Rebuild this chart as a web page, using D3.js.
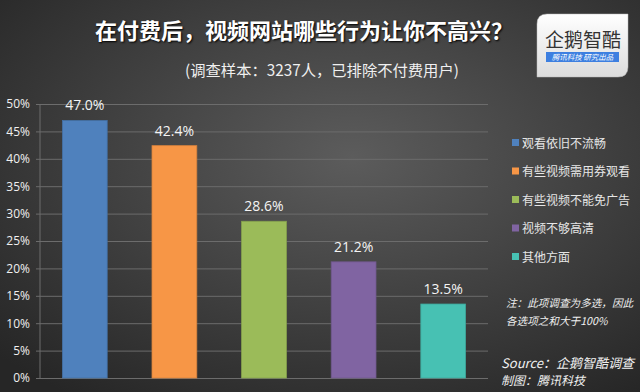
<!DOCTYPE html>
<html><head><meta charset="utf-8">
<script src="https://cdn.jsdelivr.net/npm/d3@7"></script>
<style>body{margin:0;background:#333}svg{display:block}</style>
</head><body>
<script>
const categories = ["观看依旧不流畅","有些视频需用券观看","有些视频不能免广告","视频不够高清","其他方面"];
const values = [47.0, 42.4, 28.6, 21.2, 13.5];
const colors = ["#4f81bd","#f79646","#9bbb59","#8064a2","#47c1b3"];
const yTicks = [0,5,10,15,20,25,30,35,40,45,50];

const W=640,H=392;
const svg=d3.select("body").append("svg").attr("width",W).attr("height",H);
const defs=svg.append("defs");
const rg=defs.append("radialGradient").attr("id","bg").attr("cx","55%").attr("cy","40%").attr("r","75%");
rg.append("stop").attr("offset","0%").attr("stop-color","#5c5c5c");
rg.append("stop").attr("offset","100%").attr("stop-color","#262626");
svg.append("rect").attr("width",W).attr("height",H).attr("fill","url(#bg)");

const font="'Noto Sans CJK SC','Microsoft YaHei',sans-serif";
const x=d3.scaleBand().domain(categories).range([40,488]).paddingInner(0.5).paddingOuter(0.25);
const y=d3.scaleLinear().domain([0,50]).range([378,104]);

const yAxis=d3.axisLeft(y).tickValues(yTicks).tickFormat(d=>d+"%").tickSize(-448).tickPadding(6);
const g=svg.append("g").attr("transform","translate(40,0)").call(yAxis);
g.select(".domain").remove();
g.selectAll(".tick line").attr("stroke","#6c6c6c").attr("x1",-4);
g.selectAll(".tick text").attr("fill","#f0f0f0").attr("font-size",12).attr("font-family","'Open Sans',sans-serif").attr("x",-10);
svg.append("line").attr("x1",40).attr("x2",40).attr("y1",104).attr("y2",378).attr("stroke","#6c6c6c");

svg.selectAll("rect.bar").data(values).enter().append("rect").attr("class","bar")
 .attr("x",(d,i)=>x(categories[i])).attr("width",x.bandwidth())
 .attr("y",d=>y(d)).attr("height",d=>y(0)-y(d))
 .attr("fill",(d,i)=>colors[i]).attr("stroke",(d,i)=>d3.color(colors[i]).darker(0.4)).attr("stroke-width",0.8);
svg.selectAll("text.val").data(values).enter().append("text")
 .attr("x",(d,i)=>x(categories[i])+x.bandwidth()/2).attr("y",d=>y(d)-10)
 .attr("text-anchor","middle").attr("fill","#f4f4f4").attr("font-size",14)
 .attr("font-family","'Open Sans',sans-serif").text(d=>d.toFixed(1)+"%");

svg.append("text").attr("x",304).attr("y",39).attr("text-anchor","middle").attr("fill","#fff")
 .attr("font-size",22).attr("font-weight","bold").attr("font-family",font)
 .attr("style","text-shadow:1px 1px 2px #000").text("在付费后，视频网站哪些行为让你不高兴？");
svg.append("text").attr("x",322).attr("y",76).attr("text-anchor","middle").attr("fill","#f0f0f0")
 .attr("font-size",15.3).attr("font-family",font).text("(调查样本：3237人，已排除不付费用户)");

const lg=svg.append("g");
categories.forEach((c,i)=>{
  const yy=143+i*28.5;
  lg.append("rect").attr("x",512).attr("y",yy-4).attr("width",7).attr("height",7).attr("fill",colors[i]);
  lg.append("text").attr("x",522).attr("y",yy+4.5).attr("fill","#e6e6e6").attr("font-size",12)
   .attr("font-family",font).text(c);
});

const it=svg.append("g").attr("font-family",font).attr("font-style","italic").attr("fill","#f0f0f0");
it.append("text").attr("x",506).attr("y",307).attr("font-size",10.6).text("注：此项调查为多选，因此");
it.append("text").attr("x",506).attr("y",325).attr("font-size",10.6).text("各选项之和大于100%");
it.append("text").attr("x",501).attr("y",368).attr("font-size",13).text("Source：企鹅智酷调查");
it.append("text").attr("x",501).attr("y",385).attr("font-size",12).text("制图：腾讯科技");

const lgd=defs.append("linearGradient").attr("id","lgbg").attr("x1","0").attr("y1","0").attr("x2","0").attr("y2","1");
lgd.append("stop").attr("offset","0%").attr("stop-color","#ffffff");
lgd.append("stop").attr("offset","100%").attr("stop-color","#dcdcdc");
const logo=svg.append("g").attr("transform","translate(537,14)");
logo.append("path").attr("d","M10,0 H91 V53 Q91,63 81,63 H0 V10 Q0,0 10,0 Z").attr("fill","url(#lgbg)").attr("stroke","#bbb").attr("stroke-width",0.5);
logo.append("text").attr("x",46).attr("y",33).attr("text-anchor","middle").attr("font-size",19).attr("fill","#333")
 .attr("font-family",font).text("企鹅智酷");
logo.append("rect").attr("x",9).attr("y",38).attr("width",73).attr("height",10).attr("fill","#3d7fe0");
logo.append("text").attr("x",45.5).attr("y",46).attr("text-anchor","middle").attr("font-size",7.5).attr("fill","#fff")
 .attr("font-style","italic").attr("font-family",font).text("腾讯科技  研究出品");
</script>
</body></html>
